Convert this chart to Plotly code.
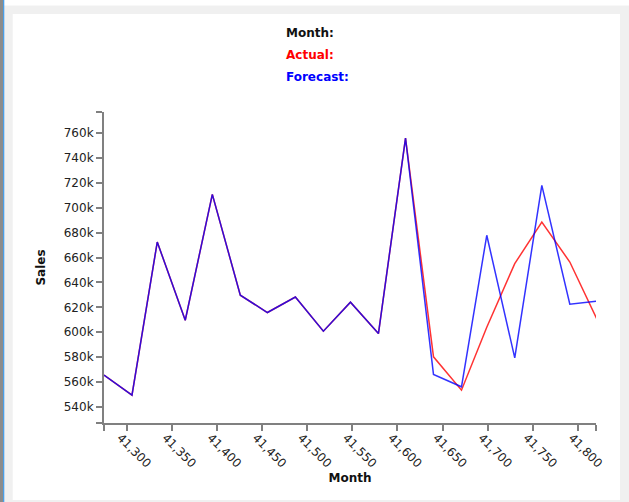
import plotly.graph_objects as go

# Excel serial dates (monthly)
months = [41275, 41306, 41334, 41365, 41395, 41426, 41456, 41487, 41518, 41548,
          41579, 41609, 41640, 41671, 41699, 41730, 41760, 41791, 41821]
actual = [565500, 549400, 672500, 609600, 710800, 629700, 615800, 628300, 600800, 624100,
          598900, 756000, 580200, 553400, 604000, 655100, 688500, 656400, 610400]
forecast = [565500, 549400, 672500, 609600, 710800, 629700, 615800, 628300, 600800, 624100,
            598900, 756000, 566000, 556100, 677900, 579400, 718000, 622500, 624900]

x_ticks = [41300, 41350, 41400, 41450, 41500, 41550, 41600, 41650, 41700, 41750, 41800]
y_ticks = [540000, 560000, 580000, 600000, 620000, 640000, 660000, 680000, 700000,
           720000, 740000, 760000]
x_range = [41275, 41820]
y_range = [527000, 777000]

W, H = 629, 502
L, R, T, B = 104, 33, 112, 79
PW, PH = W - L - R, H - T - B
FONT = "DejaVu Sans"


def px(xp):
    return (xp - L) / PW


def py(yp):
    return (H - B - yp) / PH


fig = go.Figure()
fig.add_trace(go.Scatter(x=months, y=actual, mode="lines", name="Actual",
                         line=dict(color="#ff0000", width=1.5), opacity=0.8))
fig.add_trace(go.Scatter(x=months, y=forecast, mode="lines", name="Forecast",
                         line=dict(color="#0000ff", width=1.5), opacity=0.8))

x_tickvals = [x_range[0]] + x_ticks + [x_range[1]]
x_ticktext = [""] + [f"{v:,}" for v in x_ticks] + [""]
y_tickvals = [y_range[0]] + y_ticks + [y_range[1]]
y_ticktext = [""] + [f"{v // 1000}k" for v in y_ticks] + [""]

axis_common = dict(showgrid=False, zeroline=False, showline=True, linecolor="#808080",
                   linewidth=2, ticks="outside", ticklen=6, tickcolor="#808080",
                   tickwidth=1.5, tickfont=dict(family=FONT, size=12, color="#222222"))

fig.update_xaxes(range=x_range, tickmode="array", tickvals=x_tickvals, ticktext=x_ticktext,
                 tickangle=45, ticklabelshift=-6, ticklabelstandoff=-5,
                 title=dict(text="<b>Month</b>", font=dict(family=FONT, size=12, color="#111111"),
                            standoff=4),
                 **axis_common)
fig.update_yaxes(range=y_range, tickmode="array", tickvals=y_tickvals, ticktext=y_ticktext,
                 title=dict(text="<b>Sales</b>", font=dict(family=FONT, size=12, color="#111111"),
                            standoff=16),
                 **axis_common)

shapes = [
    # white top strip
    dict(type="rect", xref="paper", yref="paper", x0=px(0), x1=px(W), y0=py(5.5), y1=py(0),
         fillcolor="#ffffff", line=dict(width=0), layer="below"),
    # white panel
    dict(type="rect", xref="paper", yref="paper", x0=px(12.7), x1=px(620), y0=py(500), y1=py(14),
         fillcolor="#ffffff", line=dict(width=0), layer="below"),
    # left dark strip
    dict(type="rect", xref="paper", yref="paper", x0=px(0), x1=px(3), y0=py(H), y1=py(0),
         fillcolor="#8c8c8c", line=dict(width=0), layer="below"),
    # left blue line
    dict(type="rect", xref="paper", yref="paper", x0=px(3), x1=px(4.3), y0=py(H), y1=py(0),
         fillcolor="#4a9fe8", line=dict(width=0), layer="below"),
]

annotations = [
    dict(text="<b>Month:</b>", x=px(284), y=py(33), xref="paper", yref="paper",
         xanchor="left", yanchor="middle", showarrow=False,
         font=dict(family=FONT, size=12, color="#111111")),
    dict(text="<b>Actual:</b>", x=px(284), y=py(55), xref="paper", yref="paper",
         xanchor="left", yanchor="middle", showarrow=False,
         font=dict(family=FONT, size=12, color="#ff0000")),
    dict(text="<b>Forecast:</b>", x=px(284), y=py(77), xref="paper", yref="paper",
         xanchor="left", yanchor="middle", showarrow=False,
         font=dict(family=FONT, size=12, color="#0000ff")),
]

fig.update_layout(
    width=W, height=H,
    margin=dict(l=L, r=R, t=T, b=B, pad=0),
    paper_bgcolor="#f0f0f0", plot_bgcolor="#ffffff",
    showlegend=False,
    shapes=shapes, annotations=annotations,
    font=dict(family=FONT, size=12),
)

fig.write_html("out.html", config={"displayModeBar": False},
               post_script="document.body.style.margin='0';document.body.style.overflow='hidden';")
